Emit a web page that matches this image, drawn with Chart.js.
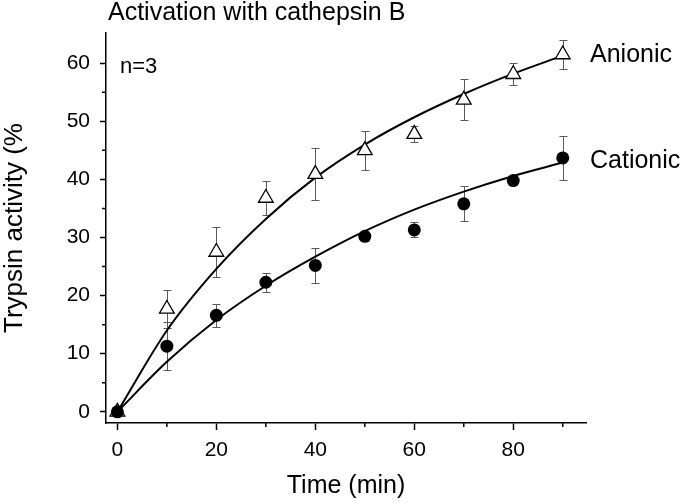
<!DOCTYPE html>
<html>
<head>
<meta charset="utf-8">
<script src="https://cdn.jsdelivr.net/npm/chart.js@4.4.0/dist/chart.umd.min.js"></script>
<style>
  html, body { margin: 0; padding: 0; background: #fff; }
  #wrap { width: 685px; height: 504px; }
</style>
</head>
<body>
<div id="wrap"><canvas id="chart" width="685" height="504"></canvas></div>
<script>
// Sampling times (min)
const times = [0, 10, 20, 30, 40, 50, 60, 70, 80, 90];

// Measured trypsin activity (%), mean and error
const anionicMean = [0, 17.7, 27.5, 36.8, 40.9, 45.0, 47.8, 53.7, 58.1, 61.5];
const anionicErr = [0, 3.2, 4.3, 3.0, 4.5, 3.3, 1.35, 3.5, 1.9, 2.5];
const cationicMean = [0, 11.3, 16.6, 22.3, 25.2, 30.2, 31.3, 35.8, 39.8, 43.7];
const cationicErr = [0, 4.1, 2.0, 1.6, 3.0, 0.8, 1.3, 3.0, 0.5, 3.8];

// Fitted curves at the same times
const anionicFit = [0, 14.0, 24.6, 33.2, 40.3, 46.0, 50.7, 54.7, 58.2, 61.3];
const cationicFit = [0, 8.6, 15.8, 21.7, 26.7, 31.1, 34.8, 37.9, 40.6, 42.9];

// Axis ticks
const xMajorTicks = [0, 20, 40, 60, 80];
const xMinorTicks = [10, 30, 50, 70, 90];
const yMajorTicks = [0, 10, 20, 30, 40, 50, 60];
const yMinorTicks = [5, 15, 25, 35, 45, 55];

const FONT = "'Liberation Sans', Arial, sans-serif";

const toPoints = (ys) => times.map((t, i) => ({ x: t, y: ys[i] }));
const crisp = (v) => Math.round(v) + 0.5;

// error bars go under the markers
const errorBarPlugin = {
  id: "errorBars",
  beforeDatasetsDraw(chart) {
    const { ctx, scales: { x, y } } = chart;
    ctx.save();
    ctx.strokeStyle = "#5a5a5a";
    ctx.lineWidth = 1;
    const drawSeries = (means, errs) => {
      times.forEach((t, i) => {
        if (!errs[i]) return;
        const px = crisp(x.getPixelForValue(t));
        const top = crisp(y.getPixelForValue(means[i] + errs[i]));
        const bot = crisp(y.getPixelForValue(means[i] - errs[i]));
        ctx.beginPath();
        ctx.moveTo(px, top);
        ctx.lineTo(px, bot);
        ctx.moveTo(px - 4, top);
        ctx.lineTo(px + 4, top);
        ctx.moveTo(px - 4, bot);
        ctx.lineTo(px + 4, bot);
        ctx.stroke();
      });
    };
    drawSeries(anionicMean, anionicErr);
    drawSeries(cationicMean, cationicErr);
    ctx.restore();
  }
};

// minor tick marks (Chart.js only has one tick length per axis)
const minorTickPlugin = {
  id: "minorTicks",
  afterDraw(chart) {
    const { ctx, chartArea, scales: { x, y } } = chart;
    ctx.save();
    ctx.strokeStyle = "#000";
    ctx.lineWidth = 1.5;
    ctx.beginPath();
    xMinorTicks.forEach((v) => {
      const px = x.getPixelForValue(v);
      ctx.moveTo(px, chartArea.bottom);
      ctx.lineTo(px, chartArea.bottom + 4);
    });
    yMinorTicks.forEach((v) => {
      const py = y.getPixelForValue(v);
      ctx.moveTo(chartArea.left, py);
      ctx.lineTo(chartArea.left - 4, py);
    });
    ctx.stroke();
    ctx.restore();
  }
};

// title and in-plot labels
const textPlugin = {
  id: "textLabels",
  afterDraw(chart) {
    const { ctx, chartArea } = chart;
    ctx.save();
    ctx.fillStyle = "#000";
    ctx.textBaseline = "alphabetic";
    ctx.textAlign = "left";
    ctx.font = "25px " + FONT;
    ctx.fillText("Activation with cathepsin B", 108, 20);
    ctx.fillText("Anionic", chartArea.right + 4, 62);
    ctx.fillText("Cationic", chartArea.right + 4, 168);
    ctx.font = "22px " + FONT;
    ctx.fillText("n=3", chartArea.left + 14, 73);
    ctx.restore();
  }
};

const axisStyle = (tickLength) => ({
  grid: { drawOnChartArea: false, drawTicks: true, tickLength: tickLength, color: "#000", tickWidth: 1.5 },
  border: { display: true, color: "#000", width: 1.5 },
});

new Chart(document.getElementById("chart"), {
  data: {
    datasets: [
      {
        type: "scatter",
        label: "Cationic",
        data: toPoints(cationicMean),
        pointStyle: "circle",
        pointRadius: 6.5,
        backgroundColor: "#000",
        borderColor: "#000",
        borderWidth: 0
      },
      {
        type: "scatter",
        label: "Anionic",
        data: toPoints(anionicMean),
        pointStyle: "triangle",
        pointRadius: 8.5,
        backgroundColor: "#fff",
        borderColor: "#000",
        borderWidth: 1.3
      },
      {
        type: "line",
        label: "Anionic fit",
        data: toPoints(anionicFit),
        borderColor: "#000",
        borderWidth: 2,
        pointRadius: 0,
        cubicInterpolationMode: "monotone",
        fill: false
      },
      {
        type: "line",
        label: "Cationic fit",
        data: toPoints(cationicFit),
        borderColor: "#000",
        borderWidth: 2,
        pointRadius: 0,
        cubicInterpolationMode: "monotone",
        fill: false
      }
    ]
  },
  options: {
    responsive: false,
    animation: false,
    layout: { padding: { top: 33, right: 99, left: 0, bottom: 0 } },
    plugins: {
      legend: { display: false },
      tooltip: { enabled: false }
    },
    scales: {
      x: {
        type: "linear",
        min: -2.3,
        max: 94.7,
        ...axisStyle(7),
        afterBuildTicks: (axis) => { axis.ticks = xMajorTicks.map((v) => ({ value: v })); },
        afterFit: (axis) => { axis.height = 81; },
        ticks: { color: "#000", font: { family: FONT, size: 21 }, padding: 8, maxRotation: 0, autoSkip: false },
        title: {
          display: true,
          text: "Time (min)",
          color: "#000",
          font: { family: FONT, size: 25 },
          padding: { top: 0, bottom: 3 }
        }
      },
      y: {
        type: "linear",
        min: -1.93,
        max: 65.2,
        ...axisStyle(6),
        afterBuildTicks: (axis) => { axis.ticks = yMajorTicks.map((v) => ({ value: v })); },
        afterFit: (axis) => { axis.width = 106; },
        ticks: { color: "#000", font: { family: FONT, size: 21 }, padding: 10, autoSkip: false },
        title: {
          display: true,
          text: "Trypsin activity (%",
          color: "#000",
          font: { family: FONT, size: 26, lineHeight: 1 },
          padding: { top: 2, bottom: 0 }
        }
      }
    }
  },
  plugins: [errorBarPlugin, minorTickPlugin, textPlugin]
});
</script>
</body>
</html>
